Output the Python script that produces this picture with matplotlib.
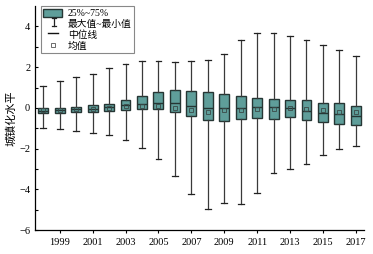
import numpy as np
import matplotlib
matplotlib.use('Agg')
import matplotlib.pyplot as plt
from matplotlib.patches import Patch
from matplotlib.lines import Line2D
from matplotlib.legend_handler import HandlerBase

# data (one entry per year)
years = list(range(1998, 2018))
whis_lo = [-0.99, -1.04, -1.15, -1.23, -1.33, -1.59, -1.97, -2.49, -3.34, -4.25,
           -4.96, -4.65, -4.74, -4.18, -3.18, -3.00, -2.74, -2.29, -2.03, -1.88]
q1 = [-0.27, -0.24, -0.21, -0.21, -0.17, -0.10, -0.03, -0.03, -0.21, -0.38,
      -0.59, -0.63, -0.52, -0.49, -0.56, -0.44, -0.57, -0.70, -0.78, -0.84]
med = [-0.13, -0.10, -0.06, -0.04, 0.04, 0.15, 0.17, 0.23, 0.23, 0.08,
       -0.01, 0.02, 0.02, 0.03, 0.03, 0.02, -0.15, -0.26, -0.31, -0.39]
mean = [-0.12, -0.10, -0.07, -0.05, 0.00, 0.09, 0.10, 0.10, 0.02, -0.10,
        -0.20, -0.12, -0.12, -0.06, -0.07, 0.02, -0.05, -0.11, -0.18, -0.18]
q3 = [0.00, 0.02, 0.07, 0.12, 0.21, 0.38, 0.61, 0.79, 0.86, 0.84,
      0.77, 0.68, 0.61, 0.51, 0.43, 0.41, 0.39, 0.25, 0.23, 0.10]
whis_hi = [1.08, 1.33, 1.52, 1.67, 1.98, 2.15, 2.31, 2.32, 2.25, 2.30,
           2.35, 2.64, 3.35, 3.70, 3.69, 3.54, 3.33, 3.10, 2.84, 2.54]
xtick_years = list(range(1999, 2018, 2))

plt.rcParams['font.family'] = ['Liberation Serif', 'Noto Sans CJK SC']
plt.rcParams['font.size'] = 7.5

box_col = '#5f9e9a'
edge_col = '#263634'

stats = []
for i in range(len(years)):
    stats.append(dict(whislo=whis_lo[i], q1=q1[i], med=med[i], mean=mean[i],
                      q3=q3[i], whishi=whis_hi[i], fliers=[]))

fig = plt.figure(figsize=(3.73, 2.54), dpi=100)
ax = fig.add_axes([0.094, 0.094, 0.882, 0.882])

ax.bxp(stats, positions=years, widths=0.6, patch_artist=True, showmeans=True,
       boxprops=dict(facecolor=box_col, edgecolor=edge_col, linewidth=1.0),
       medianprops=dict(color=edge_col, linewidth=1.0),
       whiskerprops=dict(color='#3a3a3a', linewidth=0.9),
       capprops=dict(color='#222222', linewidth=0.9),
       capwidths=0.35,
       meanprops=dict(marker='s', markersize=2.6, markerfacecolor='none',
                      markeredgecolor='#3a4a48', markeredgewidth=0.6))

ax.set_xlim(1997.5, 2017.5)
ax.set_ylim(-6, 5)
ax.set_xticks(xtick_years)
ax.set_xticklabels([str(y) for y in xtick_years])
ax.set_yticks([-6, -4, -2, 0, 2, 4])
ax.set_yticks(np.arange(-5, 5, 2), minor=True)
ax.tick_params(axis='y', which='both', direction='in', length=2.5, width=0.8)
ax.tick_params(axis='x', direction='out', length=2.5, width=0.8)
for s in ['top', 'right']:
    ax.spines[s].set_visible(False)
for s in ['left', 'bottom']:
    ax.spines[s].set_linewidth(0.9)
ax.set_ylabel('城镇化水平', fontsize=8, labelpad=2)


# whisker symbol for legend (I-beam), median as a short line
class WhiskerHandler(HandlerBase):
    def create_artists(self, legend, orig_handle, xd, yd, width, height, fontsize, trans):
        cx = xd + width / 2 + 1
        top = yd + height * 0.95
        bot = yd + height * 0.05
        cw = width * 0.11
        v = Line2D([cx, cx], [bot, top], color='#222222', lw=0.9, transform=trans)
        t = Line2D([cx - cw, cx + cw], [top, top], color='#222222', lw=0.9, transform=trans)
        b = Line2D([cx - cw, cx + cw], [bot, bot], color='#222222', lw=0.9, transform=trans)
        return [v, t, b]


class MedianHandler(HandlerBase):
    def create_artists(self, legend, orig_handle, xd, yd, width, height, fontsize, trans):
        cy = yd + height / 2
        ln = Line2D([xd + width * 0.22, xd + width * 0.75], [cy, cy],
                    color='#111111', lw=1.0, transform=trans)
        return [ln]


class WhiskerKey:
    pass


class MedianKey:
    pass


h_box = Patch(facecolor=box_col, edgecolor=edge_col, linewidth=1.0)
h_mean = Line2D([], [], linestyle='none', marker='s', markersize=2.6,
                markerfacecolor='none', markeredgecolor='#555555', markeredgewidth=0.6)
leg = ax.legend([h_box, WhiskerKey(), MedianKey(), h_mean],
                ['25%~75%', '最大值~最小值', '中位线', '均值'],
                handler_map={WhiskerKey: WhiskerHandler(), MedianKey: MedianHandler()},
                loc='upper left', bbox_to_anchor=(0.018, 1.0), fontsize=7,
                fancybox=False, edgecolor='#888888', framealpha=1,
                borderpad=0.25, labelspacing=0.15, handlelength=1.95,
                handleheight=0.9, handletextpad=0.55, borderaxespad=0.0)
leg.get_frame().set_linewidth(0.8)

fig.savefig('out.png', dpi=100)
